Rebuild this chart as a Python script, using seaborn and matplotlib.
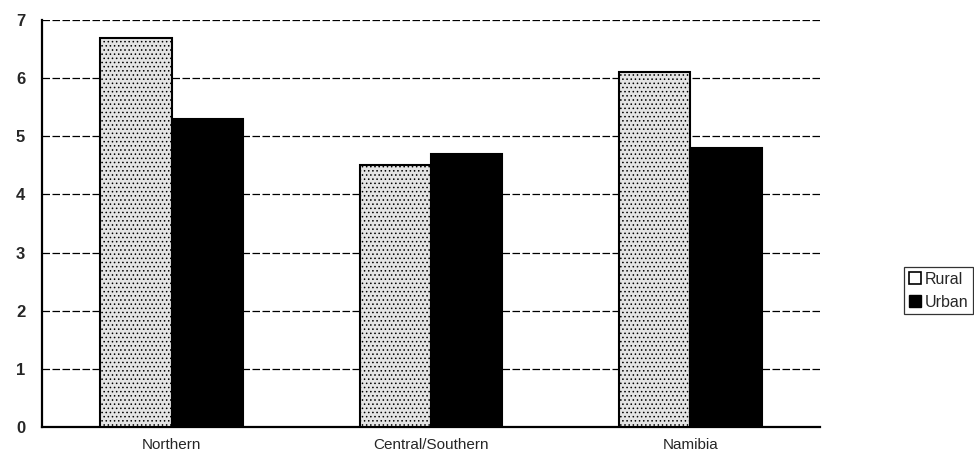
import matplotlib
matplotlib.use("Agg")
import matplotlib.pyplot as plt
import seaborn as sns
import pandas as pd
from matplotlib.patches import Patch
from matplotlib.ticker import FixedLocator

categories = ["Northern", "Central/Southern", "Namibia"]
rural = [6.7, 4.5, 6.1]
urban = [5.3, 4.7, 4.8]
series = ["Rural", "Urban"]
yticks = [0, 1, 2, 3, 4, 5, 6, 7]

df = pd.DataFrame({
    "Region": categories * 2,
    "Value": rural + urban,
    "Area": ["Rural"] * 3 + ["Urban"] * 3,
})

sns.set_style("white")
plt.rcParams["font.family"] = ["Liberation Sans", "DejaVu Sans"]
plt.rcParams["hatch.color"] = "#777777"
plt.rcParams["hatch.linewidth"] = 0.6

fig = plt.figure(figsize=(9.74, 4.68), dpi=100)
ax = fig.add_axes([0.043, 0.088, 0.799, 0.869])

colors = {"Rural": "#e4e4e4", "Urban": "#000000"}
sns.barplot(data=df, x="Region", y="Value", hue="Area", order=categories,
            hue_order=series, palette=colors, width=0.55, ax=ax,
            edgecolor="black", linewidth=1.5, legend=False, zorder=3)

n = len(categories)
for p in ax.patches[:n]:
    p.set_hatch("....")
    p.set_edgecolor("black")

ax.set_ylim(0, 7)
ax.set_xlim(-0.5, n - 0.5)
ax.set_yticks(yticks)
ax.set_yticklabels([str(t) for t in yticks], fontsize=12, fontweight="bold")
ax.yaxis.grid(True, color="black", linestyle=(0, (6, 2)), linewidth=0.9, zorder=0)
ax.set_axisbelow(True)
ax.set_xlabel("")
ax.set_ylabel("")
ax.tick_params(axis="x", which="major", length=0, labelsize=11, pad=8)
ax.xaxis.set_minor_locator(FixedLocator([-0.5 + k for k in range(n + 1)]))
ax.tick_params(axis="x", which="minor", length=5, width=1.2, direction="out", color="black")
ax.tick_params(axis="y", which="major", length=4, width=1.0, direction="out", color="black", pad=8)
for s in ["top", "right"]:
    ax.spines[s].set_visible(False)
for s in ["left", "bottom"]:
    ax.spines[s].set_color("black")
    ax.spines[s].set_linewidth(1.6)

handles = [Patch(facecolor="white", edgecolor="black", linewidth=1.2, label="Rural"),
           Patch(facecolor="black", edgecolor="black", label="Urban")]
leg = fig.legend(handles=handles, loc="upper right", bbox_to_anchor=(0.999, 0.43),
                 frameon=True, fancybox=False, edgecolor="black", fontsize=11.5,
                 handlelength=0.8, handleheight=0.8, handletextpad=0.2,
                 borderpad=0.3, labelspacing=0.5, borderaxespad=0)
leg.get_frame().set_linewidth(0.9)

fig.savefig("out.png", dpi=100, facecolor="white")
